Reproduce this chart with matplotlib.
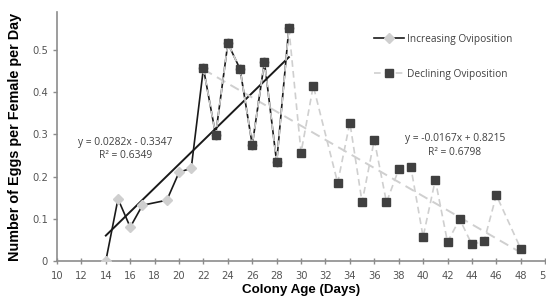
"""Oviposition per female per day vs colony age, with linear trendlines."""

import matplotlib

matplotlib.use("Agg")
import matplotlib.pyplot as plt
import numpy as np

# Increasing phase (days 14-29)
inc_days = [14, 15, 16, 17, 19, 20, 21, 22, 23, 24, 25, 26, 27, 28, 29]
inc_eggs = [0.0, 0.147, 0.08, 0.132, 0.144, 0.21, 0.22,
            0.457, 0.299, 0.516, 0.455, 0.275, 0.472, 0.234, 0.552]

# Declining phase (days 22-48)
dec_days = [22, 23, 24, 25, 26, 27, 28, 29, 30, 31, 33, 34, 35, 36, 37,
            38, 39, 40, 41, 42, 43, 44, 45, 46, 48]
dec_eggs = [0.457, 0.299, 0.516, 0.455, 0.275, 0.472, 0.234, 0.552, 0.257,
            0.415, 0.185, 0.328, 0.139, 0.287, 0.139, 0.217, 0.222, 0.057,
            0.192, 0.045, 0.099, 0.039, 0.047, 0.156, 0.029]

# Trendline coefficients as printed on the chart (slope, intercept, R²)
inc_fit = (0.0282, -0.3347, 0.6349)
dec_fit = (-0.0167, 0.8215, 0.6798)

x_ticks = list(range(10, 51, 2))
y_ticks = [0, 0.1, 0.2, 0.3, 0.4, 0.5]

GRAY_AXIS = "#8c8c8c"
DARK = "#404040"
LIGHT = "#cfcfcf"


def main():
    fig = plt.figure(figsize=(5.46, 3.02), dpi=100)
    ax = fig.add_axes([0.1044, 0.136, 0.894, 0.824])

    # trendlines
    xs = np.array([inc_days[0], inc_days[-1]])
    ax.plot(xs, inc_fit[0] * xs + inc_fit[1], color="#1a1a1a", lw=1.4, zorder=2)
    xs = np.array([dec_days[0], dec_days[-1]])
    ax.plot(xs, dec_fit[0] * xs + dec_fit[1], color=LIGHT, lw=1.4,
            ls=(0, (5, 3)), zorder=2)

    # series
    ax.plot(inc_days, inc_eggs, color="#1a1a1a", lw=1.2, marker="D",
            markersize=5.5, markerfacecolor=LIGHT, markeredgecolor=LIGHT,
            zorder=3, label="Increasing Oviposition")
    ax.plot(dec_days, dec_eggs, color=LIGHT, lw=1.2, ls=(0, (4, 2.5)),
            marker="s", markersize=6.3, markerfacecolor=DARK,
            markeredgecolor=DARK, zorder=4, label="Declining Oviposition")

    ax.set_xlim(10, 50)
    ax.set_ylim(0, 0.59)
    ax.set_xticks(x_ticks)
    ax.set_yticks(y_ticks)
    ax.set_yticklabels(["0", "0.1", "0.2", "0.3", "0.4", "0.5"])

    for side in ("top", "right"):
        ax.spines[side].set_visible(False)
    for side in ("left", "bottom"):
        ax.spines[side].set_color(GRAY_AXIS)
        ax.spines[side].set_linewidth(1.2)
    ax.tick_params(axis="both", colors=GRAY_AXIS, labelcolor="#555555",
                   labelsize=7.2, length=3, width=1)
    ax.tick_params(axis="x", direction="inout", length=5, pad=5)

    ax.set_xlabel("Colony Age (Days)", family="Liberation Sans",
                  fontweight="bold", fontsize=9.6, labelpad=2)
    ax.set_ylabel("Number of Eggs per Female per Day", family="Liberation Sans",
                  fontweight="bold", fontsize=10.4, labelpad=7)

    eq_font = dict(family="Open Sans", fontsize=7.4, color="#404040",
                   ha="center", va="center")
    ax.text(15.6, 0.28, f"y = {inc_fit[0]}x - {abs(inc_fit[1])}", **eq_font)
    ax.text(15.6, 0.249, f"R² = {inc_fit[2]}", **eq_font)
    ax.text(42.6, 0.291, f"y = {dec_fit[0]}x + {dec_fit[1]}", **eq_font)
    ax.text(42.6, 0.258, f"R² = {dec_fit[2]}", **eq_font)

    ax.legend(loc="upper left", bbox_to_anchor=(0.63, 0.95), frameon=False,
              prop={"family": "Open Sans", "size": 7.3},
              labelspacing=2.4, handlelength=3.0, handletextpad=0.3,
              labelcolor="#404040")

    fig.savefig("out.png", dpi=100)
    plt.close(fig)


if __name__ == "__main__":
    main()
